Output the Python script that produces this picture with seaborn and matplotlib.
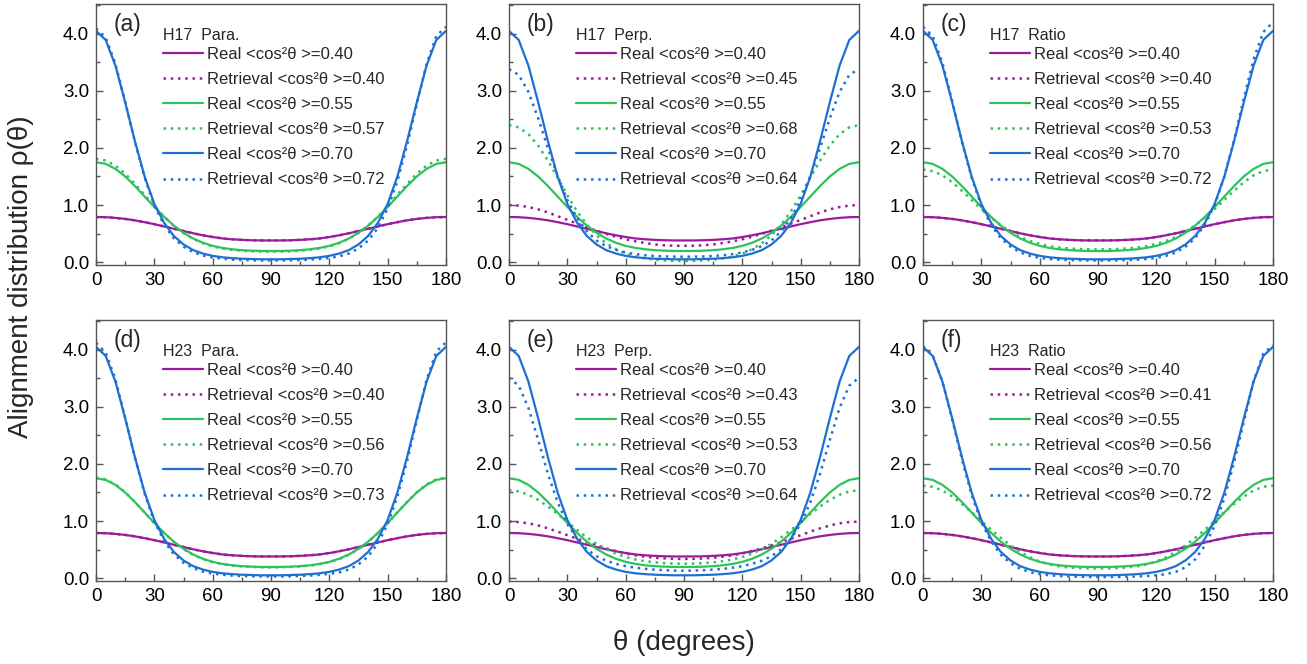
import matplotlib
matplotlib.use("Agg")
import matplotlib.pyplot as plt
import seaborn as sns
from matplotlib.ticker import MultipleLocator

# ---------------- data ----------------
THETA = [0, 5, 10, 15, 20, 25, 30, 35, 40, 45, 50, 55, 60, 65, 70, 75, 80, 85, 90,
         95, 100, 105, 110, 115, 120, 125, 130, 135, 140, 145, 150, 155, 160, 165, 170, 175, 180]

REAL_040 = [0.79, 0.787, 0.775, 0.757, 0.732, 0.70, 0.665, 0.625, 0.585, 0.545, 0.505, 0.47, 0.44, 0.415, 0.40, 0.39, 0.383, 0.38, 0.38,
            0.38, 0.383, 0.39, 0.40, 0.415, 0.44, 0.47, 0.505, 0.545, 0.585, 0.625, 0.665, 0.70, 0.732, 0.757, 0.775, 0.787, 0.79]
REAL_055 = [1.75, 1.72, 1.633, 1.50, 1.333, 1.15, 0.966, 0.793, 0.64, 0.514, 0.414, 0.339, 0.285, 0.249, 0.225, 0.21, 0.201, 0.196, 0.195,
            0.196, 0.201, 0.21, 0.225, 0.249, 0.285, 0.339, 0.414, 0.514, 0.64, 0.793, 0.966, 1.15, 1.333, 1.50, 1.633, 1.72, 1.75]
REAL_070 = [4.05, 3.89, 3.44, 2.80, 2.12, 1.50, 1.02, 0.69, 0.46, 0.31, 0.21, 0.15, 0.11, 0.085, 0.07, 0.06, 0.055, 0.05, 0.05,
            0.05, 0.055, 0.06, 0.07, 0.085, 0.11, 0.15, 0.21, 0.31, 0.46, 0.69, 1.02, 1.50, 2.12, 2.80, 3.44, 3.89, 4.05]

A_RET_057 = [1.81, 1.78, 1.69, 1.55, 1.37, 1.18, 0.98, 0.80, 0.64, 0.51, 0.41, 0.33, 0.275, 0.24, 0.215, 0.20, 0.19, 0.185, 0.183,
             0.185, 0.19, 0.20, 0.215, 0.24, 0.275, 0.33, 0.41, 0.51, 0.64, 0.80, 0.98, 1.18, 1.37, 1.55, 1.69, 1.78, 1.81]
A_RET_072 = [4.09, 3.93, 3.47, 2.81, 2.11, 1.48, 0.99, 0.65, 0.42, 0.27, 0.175, 0.115, 0.08, 0.06, 0.045, 0.037, 0.032, 0.03, 0.03,
             0.03, 0.032, 0.037, 0.045, 0.058, 0.075, 0.10, 0.15, 0.24, 0.38, 0.60, 0.94, 1.42, 2.05, 2.77, 3.47, 3.96, 4.12]

B_RET_045 = [1.00, 0.99, 0.965, 0.925, 0.87, 0.805, 0.74, 0.675, 0.61, 0.55, 0.495, 0.445, 0.40, 0.365, 0.335, 0.31, 0.295, 0.287, 0.285,
             0.287, 0.295, 0.31, 0.335, 0.365, 0.40, 0.445, 0.495, 0.55, 0.61, 0.675, 0.74, 0.805, 0.87, 0.925, 0.965, 0.99, 1.00]
B_RET_068 = [2.40, 2.36, 2.24, 2.04, 1.78, 1.48, 1.17, 0.89, 0.66, 0.47, 0.33, 0.225, 0.15, 0.10, 0.065, 0.043, 0.03, 0.023, 0.02,
             0.023, 0.03, 0.043, 0.065, 0.10, 0.15, 0.225, 0.33, 0.47, 0.66, 0.89, 1.17, 1.48, 1.78, 2.04, 2.24, 2.36, 2.40]
B_RET_064 = [3.38, 3.28, 2.98, 2.52, 2.00, 1.51, 1.09, 0.77, 0.54, 0.38, 0.28, 0.215, 0.17, 0.14, 0.12, 0.108, 0.10, 0.097, 0.095,
             0.097, 0.10, 0.108, 0.12, 0.14, 0.17, 0.215, 0.28, 0.38, 0.54, 0.77, 1.09, 1.51, 2.00, 2.52, 2.98, 3.28, 3.38]

C_RET_053 = [1.62, 1.595, 1.52, 1.40, 1.25, 1.09, 0.93, 0.78, 0.645, 0.53, 0.44, 0.37, 0.32, 0.28, 0.255, 0.24, 0.23, 0.225, 0.222,
             0.225, 0.23, 0.24, 0.255, 0.28, 0.32, 0.37, 0.44, 0.53, 0.645, 0.78, 0.93, 1.09, 1.25, 1.40, 1.52, 1.595, 1.62]
C_RET_072 = [4.12, 3.96, 3.49, 2.82, 2.11, 1.48, 0.99, 0.65, 0.42, 0.27, 0.17, 0.11, 0.075, 0.055, 0.043, 0.036, 0.032, 0.03, 0.03,
             0.03, 0.032, 0.036, 0.043, 0.055, 0.075, 0.11, 0.17, 0.27, 0.42, 0.66, 1.00, 1.50, 2.14, 2.87, 3.55, 4.03, 4.20]

D_RET_056 = [1.76, 1.73, 1.64, 1.505, 1.335, 1.15, 0.965, 0.79, 0.635, 0.508, 0.408, 0.333, 0.28, 0.244, 0.22, 0.205, 0.196, 0.19, 0.188,
             0.19, 0.196, 0.205, 0.22, 0.244, 0.28, 0.333, 0.408, 0.508, 0.635, 0.79, 0.965, 1.15, 1.335, 1.505, 1.64, 1.73, 1.76]
D_RET_073 = [4.12, 3.95, 3.48, 2.81, 2.11, 1.48, 0.99, 0.65, 0.42, 0.27, 0.175, 0.115, 0.08, 0.06, 0.045, 0.037, 0.032, 0.03, 0.03,
             0.03, 0.032, 0.037, 0.045, 0.058, 0.075, 0.10, 0.15, 0.24, 0.38, 0.61, 0.95, 1.43, 2.05, 2.77, 3.47, 3.97, 4.13]

E_RET_043 = [0.99, 0.982, 0.96, 0.922, 0.872, 0.815, 0.752, 0.69, 0.63, 0.573, 0.52, 0.473, 0.433, 0.40, 0.375, 0.357, 0.345, 0.338, 0.336,
             0.338, 0.345, 0.357, 0.375, 0.40, 0.433, 0.473, 0.52, 0.573, 0.63, 0.69, 0.752, 0.815, 0.872, 0.922, 0.96, 0.982, 0.99]
E_RET_053 = [1.54, 1.52, 1.46, 1.37, 1.255, 1.125, 0.985, 0.845, 0.715, 0.60, 0.505, 0.43, 0.37, 0.327, 0.297, 0.277, 0.263, 0.255, 0.252,
             0.255, 0.263, 0.277, 0.297, 0.327, 0.37, 0.43, 0.505, 0.60, 0.715, 0.845, 0.985, 1.125, 1.255, 1.37, 1.46, 1.52, 1.54]
E_RET_064 = [3.51, 3.37, 2.98, 2.42, 1.83, 1.33, 0.95, 0.69, 0.505, 0.385, 0.305, 0.25, 0.21, 0.183, 0.163, 0.149, 0.139, 0.133, 0.13,
             0.133, 0.139, 0.149, 0.163, 0.183, 0.21, 0.25, 0.305, 0.385, 0.505, 0.69, 0.95, 1.33, 1.83, 2.42, 2.98, 3.37, 3.51]

F_RET_056 = [1.62, 1.60, 1.535, 1.43, 1.30, 1.155, 1.00, 0.85, 0.705, 0.575, 0.46, 0.365, 0.29, 0.24, 0.207, 0.187, 0.176, 0.171, 0.17,
             0.171, 0.176, 0.187, 0.207, 0.24, 0.29, 0.365, 0.46, 0.575, 0.705, 0.85, 1.00, 1.155, 1.30, 1.43, 1.535, 1.60, 1.62]
F_RET_072 = [4.06, 3.90, 3.44, 2.78, 2.08, 1.46, 0.98, 0.645, 0.41, 0.26, 0.165, 0.105, 0.07, 0.05, 0.037, 0.029, 0.024, 0.021, 0.02,
             0.02, 0.021, 0.024, 0.029, 0.037, 0.05, 0.07, 0.11, 0.19, 0.33, 0.57, 0.92, 1.40, 2.03, 2.74, 3.44, 3.93, 4.08]

PANEL_LETTERS = ["(a)", "(b)", "(c)", "(d)", "(e)", "(f)"]
PANEL_TITLES = ["H17  Para.", "H17  Perp.", "H17  Ratio", "H23  Para.", "H23  Perp.", "H23  Ratio"]
REAL_VALUES = ["0.40", "0.55", "0.70"]
RET_VALUES = [["0.40", "0.57", "0.72"],
              ["0.45", "0.68", "0.64"],
              ["0.40", "0.53", "0.72"],
              ["0.40", "0.56", "0.73"],
              ["0.43", "0.53", "0.64"],
              ["0.41", "0.56", "0.72"]]
REAL_SERIES = [REAL_040, REAL_055, REAL_070]
RET_SERIES = [[REAL_040, A_RET_057, A_RET_072],
              [B_RET_045, B_RET_068, B_RET_064],
              [REAL_040, C_RET_053, C_RET_072],
              [REAL_040, D_RET_056, D_RET_073],
              [E_RET_043, E_RET_053, E_RET_064],
              [REAL_040, F_RET_056, F_RET_072]]

COLORS = ["#9c1a9c", "#2ec25c", "#1f6fd2"]
XTICKS = [0, 30, 60, 90, 120, 150, 180]
YTICKS = [0.0, 1.0, 2.0, 3.0, 4.0]

# ---------------- style ----------------
sns.set_theme(style="ticks")
plt.rcParams["font.family"] = ["Liberation Sans", "DejaVu Sans"]
plt.rcParams["axes.edgecolor"] = "#555555"
plt.rcParams["axes.linewidth"] = 1.0

W, H = 1307, 664
fig = plt.figure(figsize=(W / 100, H / 100), dpi=100)

lefts_px = [96, 509, 923]
width_px = 350
rows_px = [(4, 265), (320, 581)]

for i in range(6):
    r, c = divmod(i, 3)
    top, bot = rows_px[r]
    ax = fig.add_axes([lefts_px[c] / W, 1 - bot / H, width_px / W, (bot - top) / H])
    handles = []
    labels = []
    for k in range(3):
        sns.lineplot(x=THETA, y=REAL_SERIES[k], ax=ax, color=COLORS[k], linewidth=1.6,
                     linestyle="-")
        handles.append(ax.get_lines()[-1])
        labels.append("Real <cos²θ >=" + REAL_VALUES[k])
        sns.lineplot(x=THETA, y=RET_SERIES[i][k], ax=ax, color=COLORS[k], linewidth=1.8,
                     linestyle=(0, (1, 1.9)))
        handles.append(ax.get_lines()[-1])
        labels.append("Retrieval <cos²θ >=" + RET_VALUES[i][k])

    ax.set_xlim(0, 180)
    ax.set_ylim(-0.05, 4.52)
    ax.set_xticks(XTICKS)
    ax.set_yticks(YTICKS)
    ax.set_yticklabels([f"{v:.1f}" for v in YTICKS])
    ax.xaxis.set_minor_locator(MultipleLocator(15))
    ax.yaxis.set_minor_locator(MultipleLocator(0.5))
    ax.tick_params(which="major", direction="in", length=5, width=1.0, color="#555555",
                   labelsize=13.5, pad=5, labelcolor="black")
    ax.tick_params(which="minor", direction="in", length=3, width=1.0, color="#555555")
    ax.set_xlabel("")
    ax.set_ylabel("")

    ax.text(0.049, 0.92, PANEL_LETTERS[i], transform=ax.transAxes, fontsize=16.5,
            ha="left", va="center")
    ax.text(0.191, 0.878, PANEL_TITLES[i], transform=ax.transAxes, fontsize=11.5,
            ha="left", va="center")
    ax.legend(handles, labels, loc="upper left",
              bbox_to_anchor=(0.19, 0.837), frameon=False, fontsize=12,
              handlelength=2.4, handletextpad=0.25,
              labelspacing=0.61, borderpad=0, borderaxespad=0)

fig.text(0.016, 0.583, "Alignment distribution ρ(θ)", rotation=90, fontsize=20,
         ha="center", va="center")
fig.text(0.523, 0.032, "θ (degrees)", fontsize=20, ha="center", va="center")

fig.savefig("out.png", dpi=100)
